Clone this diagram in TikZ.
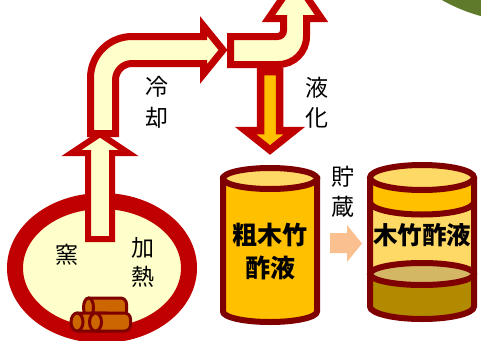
\documentclass[tikz,border=0pt]{standalone}
\usepackage{fontspec}
\newfontfamily\jpfont{Noto Sans CJK JP}
\definecolor{kred}{HTML}{C00000}
\definecolor{kmaroon}{HTML}{7F0000}
\definecolor{kcream}{HTML}{FFFFCC}
\definecolor{kgold}{HTML}{FFC000}
\definecolor{klight}{HTML}{FFD966}
\definecolor{kliqtop}{RGB}{212,183,100}
\definecolor{kliq}{RGB}{178,138,0}
\definecolor{kwood}{RGB}{204,102,0}
\definecolor{kpeach}{HTML}{FAC090}
\definecolor{kgreen}{RGB}{96,122,44}
\tikzset{
  pipe/.style={draw=kred, fill=kcream, line width=7pt, line join=miter},
  tankline/.style={draw=kmaroon, line width=6pt},
  woodlog/.style={draw=kmaroon, fill=kwood, line width=3pt},
  lbl/.style={font=\jpfont\fontsize{23pt}{23pt}\selectfont, inner sep=0pt},
  tanklbl/.style={font=\jpfont\bfseries\fontsize{25pt}{25pt}\selectfont, inner sep=0pt},
}
\begin{document}
\begin{tikzpicture}[x=1pt, y=-1pt]
\useasboundingbox (0,0) rectangle (481,340);
\clip (0,0) rectangle (481,340);

% corner decoration
\fill[kgreen] (525.5,-148) circle (170);

% kiln
\draw[kred, fill=kcream, line width=16pt] (102,268) ellipse (87 and 67);

% firewood
\draw[woodlog, rounded corners=6pt] (88.5,298) -- (126.5,298) -- (126.5,317) -- (88.5,317);
\draw[woodlog] (88.5,307.5) ellipse (5 and 9.5);
\draw[woodlog, rounded corners=6pt] (77,313) -- (112,313) -- (112,331) -- (77,331);
\draw[woodlog] (77,322) ellipse (6 and 9);
\draw[woodlog, rounded corners=6pt] (95.5,313) -- (130.5,313) -- (130.5,331) -- (95.5,331);
\draw[woodlog] (95.5,322) ellipse (6 and 9);

% rising vapour
\draw[pipe, line width=6pt] (88,239) -- (88,153) -- (71.5,153) -- (100,134)
  -- (128.5,153) -- (112,153) -- (112,239) -- cycle;

% first bend of the pipe
\draw[pipe] (90.5,133.5) -- (90.5,78) arc (180:270:41.5) -- (203.5,36.5)
  -- (203.5,26) -- (223,50) -- (203.5,74) -- (203.5,63.5) -- (132,63.5)
  arc (270:180:16.5) -- (115.5,133.5) -- cycle;

% second bend of the pipe
\draw[pipe] (230.5,36.5) -- (277.5,36.5) arc (90:0:6) -- (283.5,18.5)
  -- (268.5,18.5) -- (295,-20) -- (321.5,18.5) -- (306.5,18.5) -- (306.5,36.5)
  arc (0:90:28) -- (230.5,64.5) -- cycle;

% condensed liquid
\draw[pipe, fill=kgold, line width=7.5pt] (260.5,71.5) -- (260.5,130.5)
  -- (245.5,130.5) -- (270,150) -- (294.5,130.5) -- (279.5,130.5)
  -- (279.5,71.5) -- cycle;

% crude tank
\filldraw[tankline, fill=kgold] (223,178.5) -- (223,311.5) arc (180:0:47 and 10.5)
  -- (317,178.5) -- cycle;
\filldraw[tankline, fill=klight] (270,178.5) ellipse (47 and 10.5);

% storage arrow
\fill[kpeach] (330,233) -- (347,233) -- (347,225) -- (362,243.5) -- (347,262)
  -- (347,253) -- (330,253) -- cycle;

% refined tank
\fill[klight] (370,177.5) rectangle (474,306.5);
\fill[kliq] (370,274) -- (370,306.5) arc (180:0:52 and 12.5) -- (474,274) -- cycle;
\filldraw[tankline, fill=kliqtop] (422,274) ellipse (52 and 11);
\fill[kgold] (370,177.5) -- (370,202) arc (180:0:52 and 12.5) -- (474,177.5) -- cycle;
\draw[tankline] (370,202) arc (180:0:52 and 12.5);
\filldraw[tankline, fill=klight] (422,177.5) ellipse (52 and 12.5);
\draw[tankline] (370,177.5) -- (370,306.5) arc (180:0:52 and 12.5) -- (474,177.5);

% labels
\node[lbl] (kama) at (67,255) {窯};
\node[lbl] (ka) at (143,248) {加};
\node[lbl] (netsu) at (143,277) {熱};
\node[lbl] (rei) at (157,87) {冷};
\node[lbl] (kyaku) at (157,118) {却};
\node[lbl] (eki) at (317,88) {液};
\node[lbl] (ka2) at (317,118) {化};
\node[lbl] (cho) at (343,177) {貯};
\node[lbl] (zou) at (343,207) {蔵};
\node[tanklbl] (crude1) at (270,235) {粗木竹};
\node[tanklbl] (crude2) at (270,268) {酢液};
\node[tanklbl, font=\jpfont\bfseries\fontsize{24.5pt}{24.5pt}\selectfont] (pure) at (422,235) {木竹酢液};
\end{tikzpicture}
\end{document}
